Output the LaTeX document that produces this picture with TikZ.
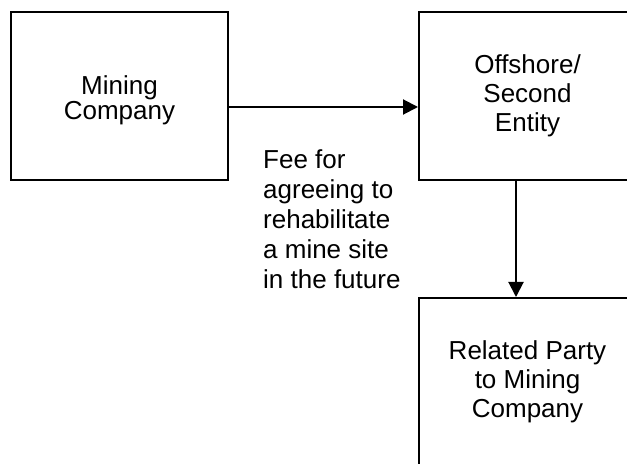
\documentclass[tikz,border=0pt]{standalone}
\usepackage{fontspec}
\setmainfont{Liberation Sans}
\usetikzlibrary{arrows.meta}
\tikzset{
  entity/.style={draw=black, line width=2bp, minimum width=217bp, minimum height=168bp, inner sep=0pt, align=center},
  flow/.style={line width=2bp, -{Triangle[length=15bp,width=15bp]}},
  lbl/.style={inner sep=0pt, align=left, anchor=north west}
}
\begin{document}
\begin{tikzpicture}[x=1bp,y=-1bp]
\useasboundingbox (0,0) rectangle (627,464);
\clip (0,0) rectangle (627,464);
\fill[white] (0,0) rectangle (627,464);
\node[entity, font=\fontsize{26bp}{24bp}\selectfont] (mc) at (119.5,96) {\raisebox{-5bp}[\height][\depth]{\begin{tabular}{@{}c@{}}Mining\\Company\end{tabular}}};
\node[entity, font=\fontsize{26bp}{29bp}\selectfont] (off) at (527.5,96) {Offshore/\\Second\\Entity};
\node[entity, font=\fontsize{26bp}{29bp}\selectfont] (rp) at (527.5,382) {Related Party\\to Mining\\Company};
\draw[flow] ([yshift=-11bp]mc.east) -- ([yshift=-11bp]off.west);
\draw[flow] ([xshift=-11.5bp]off.south) -- ([xshift=-11.5bp]rp.north);
\node[lbl, font=\fontsize{26bp}{30bp}\selectfont] (fee) at (263,149) {Fee for\\agreeing to\\rehabilitate\\a mine site\\in the future};
\end{tikzpicture}
\end{document}
